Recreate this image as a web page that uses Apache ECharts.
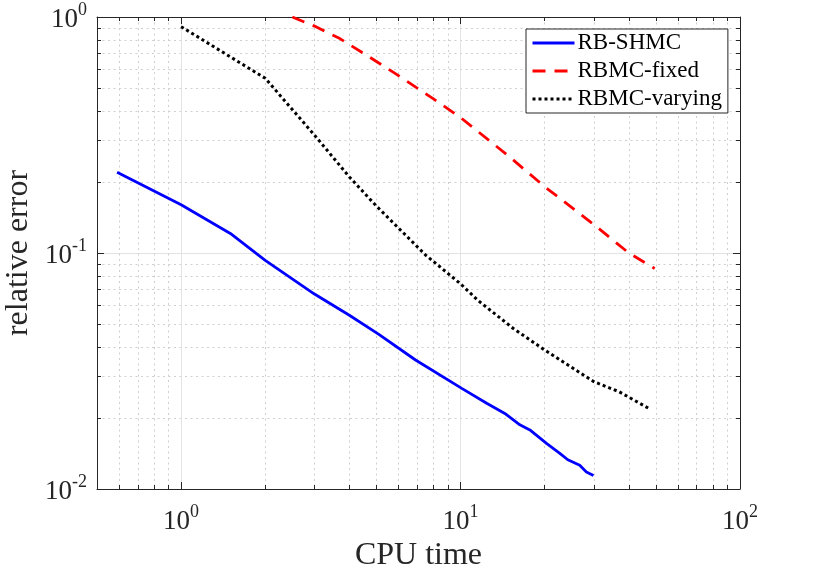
<!doctype html>
<html>
<head>
<meta charset="utf-8">
<title>relative error vs CPU time</title>
<script src="https://cdn.jsdelivr.net/npm/echarts@6/dist/echarts.min.js"></script>
<style>
  html, body { margin: 0; padding: 0; background: #fff }
  #chart { width: 830px; height: 573px }
</style>
</head>
<body>
<div id="chart"></div>
<script>
// RB-SHMC (blue, solid)
var shmcTime = [0.59, 1.0, 1.5, 2.0, 3.0, 4.0, 5.1, 6.9, 10.1, 12.4, 14.4, 16.3, 17.7, 20.3, 22.6, 24.2, 26.7, 28.2, 29.9];
var shmcErr  = [0.22, 0.16, 0.121, 0.093, 0.067, 0.0545, 0.0452, 0.0352, 0.0267, 0.0231, 0.0209, 0.0187, 0.0178, 0.0156, 0.0142, 0.0133, 0.0126, 0.0118, 0.0114];

// RBMC-fixed (red, dashed)
var fixedTime = [2.5, 3.0, 3.7, 5.0, 5.7, 8.0, 10.0, 15.0, 20.0, 30.0, 40.0, 49.5];
var fixedErr  = [1.0, 0.915, 0.81, 0.648, 0.587, 0.45, 0.375, 0.255, 0.191, 0.132, 0.1, 0.086];

// RBMC-varying (black, dotted)
var varTime = [1.0, 2.0, 3.0, 4.0, 5.0, 7.5, 10.0, 11.5, 15.4, 20.0, 30.0, 37.0, 47.0];
var varErr  = [0.91, 0.55, 0.316, 0.21, 0.158, 0.098, 0.074, 0.0632, 0.048, 0.0388, 0.0285, 0.0258, 0.022];

var seriesNames = ['RB-SHMC', 'RBMC-fixed', 'RBMC-varying'];

// axis ranges and minor grid positions
var xRange = [0.5, 100];
var yRange = [0.01, 1];
var xMinor = [0.6, 0.7, 0.8, 0.9, 2, 3, 4, 5, 6, 7, 8, 9, 20, 30, 40, 50, 60, 70, 80, 90];
var yMinor = [0.02, 0.03, 0.04, 0.05, 0.06, 0.07, 0.08, 0.09, 0.2, 0.3, 0.4, 0.5, 0.6, 0.7, 0.8, 0.9];

var FONT = '"Liberation Serif", "DejaVu Serif", serif';
var AX = '#262626';

function pairs(xs, ys) {
    return xs.map(function (x, i) { return [x, ys[i]]; });
}
function lg(v) { return Math.log10(v); }

function powLabel(v) {
    var e = Math.log10(v);
    var r = Math.round(e);
    if (Math.abs(e - r) > 1e-6) return '';
    return '{b|10}{s|' + r + '}';
}
var richPow = {
    b: { fontSize: 27, fontFamily: FONT, color: AX, lineHeight: 32, verticalAlign: 'bottom' },
    s: { fontSize: 18, fontFamily: FONT, color: AX, lineHeight: 14, verticalAlign: 'top' }
};

var chart = echarts.init(document.getElementById('chart'), null, { renderer: 'canvas' });

var majorSplit = { show: true, lineStyle: { color: '#e3e3e3', width: 1, type: 'solid' } };
var minorSplit = { show: true, lineStyle: { color: '#cfcfcf', width: 1, type: [2, 3.5] } };

chart.setOption({
    animation: false,
    backgroundColor: '#fff',
    grid: { left: 97, right: 90, top: 17, bottom: 84, containLabel: false, outerBoundsMode: 'none' },
    legend: {
        data: seriesNames,
        orient: 'vertical',
        left: 526, top: 29,
        itemWidth: 42, itemHeight: 14, itemGap: 2,
        padding: [1, 6, 1, 5],
        backgroundColor: '#fff',
        borderColor: AX, borderWidth: 1,
        itemStyle: { opacity: 0 },
        lineStyle: { width: 3 },
        textStyle: { fontFamily: FONT, fontSize: 23, color: '#000', lineHeight: 26, padding: [0, 0, 0, -2] }
    },
    xAxis: [
        {   // main log axis with labels
            type: 'log', logBase: 10, min: xRange[0], max: xRange[1], position: 'bottom',
            name: 'CPU time', nameLocation: 'middle', nameGap: 44,
            nameTextStyle: { fontFamily: FONT, fontSize: 32, color: AX },
            axisLine: { show: true, onZero: false, lineStyle: { color: AX, width: 1 } },
            axisTick: { show: true, inside: true, length: 7, lineStyle: { color: AX } },
            axisLabel: { margin: 14, formatter: powLabel, rich: richPow, showMinLabel: false },
            splitLine: majorSplit
        },
        {   // minor grid + ticks, bottom
            type: 'value', min: lg(xRange[0]), max: lg(xRange[1]), position: 'bottom', offset: 0,
            axisLine: { show: false, onZero: false },
            axisTick: { show: true, inside: true, length: 4, customValues: xMinor.map(lg), lineStyle: { color: AX } },
            axisLabel: { show: false },
            splitLine: minorSplit
        },
        {   // top box edge, major ticks
            type: 'log', logBase: 10, min: xRange[0], max: xRange[1], position: 'top', offset: 0,
            axisLine: { show: true, onZero: false, lineStyle: { color: AX, width: 1 } },
            axisTick: { show: true, inside: true, length: 7, lineStyle: { color: AX } },
            axisLabel: { show: false },
            splitLine: { show: false }
        },
        {   // top minor ticks
            type: 'value', min: lg(xRange[0]), max: lg(xRange[1]), position: 'top', offset: 0,
            axisLine: { show: false, onZero: false },
            axisTick: { show: true, inside: true, length: 4, customValues: xMinor.map(lg), lineStyle: { color: AX } },
            axisLabel: { show: false },
            splitLine: { show: false }
        }
    ],
    yAxis: [
        {
            type: 'log', logBase: 10, min: yRange[0], max: yRange[1], position: 'left',
            name: 'relative error', nameLocation: 'middle', nameGap: 54, nameRotate: 90,
            nameTextStyle: { fontFamily: FONT, fontSize: 32, color: AX },
            axisLine: { show: true, onZero: false, lineStyle: { color: AX, width: 1 } },
            axisTick: { show: true, inside: true, length: 7, lineStyle: { color: AX } },
            axisLabel: { margin: 10, formatter: powLabel, rich: richPow },
            splitLine: majorSplit
        },
        {
            type: 'value', min: lg(yRange[0]), max: lg(yRange[1]), position: 'left', offset: 0,
            axisLine: { show: false, onZero: false },
            axisTick: { show: true, inside: true, length: 4, customValues: yMinor.map(lg), lineStyle: { color: AX } },
            axisLabel: { show: false },
            splitLine: minorSplit
        },
        {
            type: 'log', logBase: 10, min: yRange[0], max: yRange[1], position: 'right', offset: 0,
            axisLine: { show: true, onZero: false, lineStyle: { color: AX, width: 1 } },
            axisTick: { show: true, inside: true, length: 7, lineStyle: { color: AX } },
            axisLabel: { show: false },
            splitLine: { show: false }
        },
        {
            type: 'value', min: lg(yRange[0]), max: lg(yRange[1]), position: 'right', offset: 0,
            axisLine: { show: false, onZero: false },
            axisTick: { show: true, inside: true, length: 4, customValues: yMinor.map(lg), lineStyle: { color: AX } },
            axisLabel: { show: false },
            splitLine: { show: false }
        }
    ],
    series: [
        {
            name: seriesNames[0], type: 'line', xAxisIndex: 0, yAxisIndex: 0,
            data: pairs(shmcTime, shmcErr), symbol: 'none', showSymbol: false,
            lineStyle: { color: '#0000ff', width: 2.8, type: 'solid' },
            itemStyle: { color: '#0000ff' }, z: 5
        },
        {
            name: seriesNames[1], type: 'line', xAxisIndex: 0, yAxisIndex: 0,
            data: pairs(fixedTime, fixedErr), symbol: 'none', showSymbol: false,
            lineStyle: { color: '#ff0000', width: 2.8, type: [13, 9] },
            itemStyle: { color: '#ff0000' }, z: 5
        },
        {
            name: seriesNames[2], type: 'line', xAxisIndex: 0, yAxisIndex: 0,
            data: pairs(varTime, varErr), symbol: 'none', showSymbol: false,
            lineStyle: { color: '#000000', width: 3, type: [3, 3] },
            itemStyle: { color: '#000000' }, z: 5
        }
    ]
});
</script>
</body>
</html>
